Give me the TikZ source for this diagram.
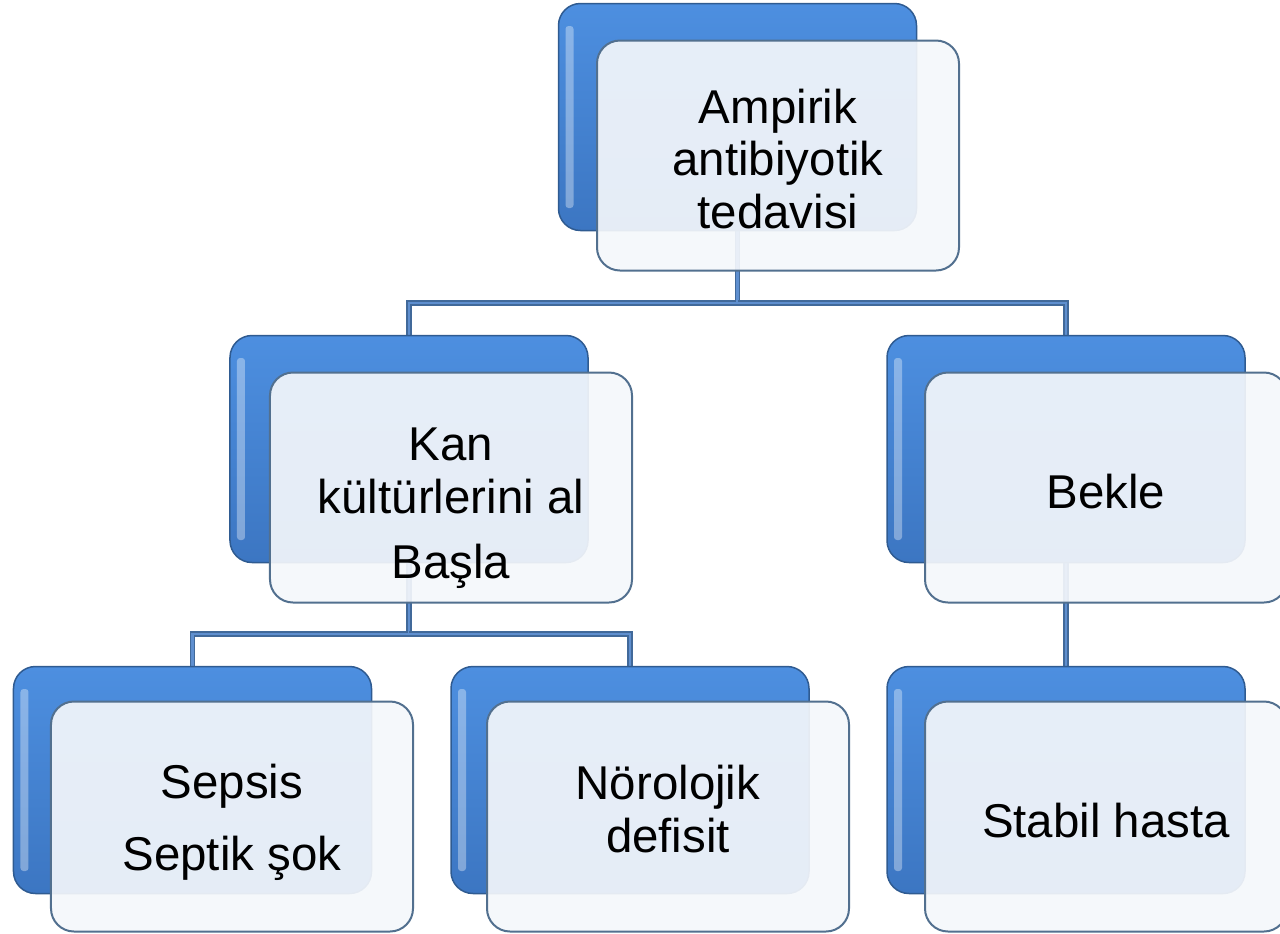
\documentclass[tikz,border=0pt]{standalone}
\usepackage{fontspec}
\setmainfont{Liberation Sans}
\usetikzlibrary{backgrounds}
\definecolor{tileblue}{HTML}{4D8FE0}
\definecolor{tiledeep}{HTML}{3C76C2}
\definecolor{tileedge}{HTML}{2F5B91}
\definecolor{cardfill}{HTML}{F4F7FB}
\definecolor{cardedge}{HTML}{52708F}
\definecolor{linkedge}{HTML}{41699A}
\definecolor{linkfill}{HTML}{5F8FCF}
\tikzset{
  back tile/.style={
    rounded corners=4.4mm,
    draw=tileedge, line width=0.3mm,
    top color=tileblue, bottom color=tiledeep,
    minimum width=71.6mm, minimum height=45.4mm,
    path picture={
      \fill[white, opacity=0.35, rounded corners=0.6mm]
        ([xshift=1.4mm, yshift=-4.5mm]path picture bounding box.north west)
        rectangle ([xshift=3mm, yshift=4.5mm]path picture bounding box.south west);
    },
  },
  front card/.style={
    rounded corners=4.6mm,
    draw=cardedge, line width=0.4mm,
    fill=cardfill, fill opacity=0.92,
    minimum width=72.4mm, minimum height=46mm,
  },
  card text/.style={
    align=center, inner sep=0pt,
    font=\fontsize{27}{30}\selectfont,
  },
  link/.style={
    draw=linkedge, line width=0.3mm,
    double=linkfill, double distance=0.5mm,
  },
}

\begin{document}
\begin{tikzpicture}[x=0.2mm, y=-0.2mm]
      \useasboundingbox (0,0) rectangle (1280,933);

      % tiles: blue back plate, then the light card over it
      \node[back tile]  (topb)    at (737.5,117) {};
      \node[front card] (topc)    at (778,155.5) {};
      \node[back tile]  (kanb)    at (409,449) {};
      \node[front card] (kanc)    at (451,487.5) {};
      \node[back tile]  (bekleb)  at (1066,449) {};
      \node[front card] (beklec)  at (1106,487.5) {};
      \node[back tile]  (sepsisb) at (192.5,780) {};
      \node[front card] (sepsisc) at (232,816.5) {};
      \node[back tile]  (norob)   at (630,780) {};
      \node[front card] (noroc)   at (668,816.5) {};
      \node[back tile]  (stabilb) at (1066,780) {};
      \node[front card] (stabilc) at (1106,816.5) {};

      % texts
      \node[card text] (topt)    at (778,159)   {Ampirik\\antibiyotik\\tedavisi};
      \node[card text] (kant)    at (451,508)   {Kan\\kültürlerini al\\[7pt]Başla};
      \node[card text] (beklet)  at (1106,492)  {Bekle};
      \node[card text] (sepsist) at (232,822)   {Sepsis\\[11pt]Septik şok};
      \node[card text] (norot)   at (668,809)   {Nörolojik\\defisit};
      \node[card text] (stabilt) at (1106,821)  {Stabil hasta};

      \coordinate (bus1) at (737.5,303);
      \coordinate (bus2) at (409,634);

      \begin{scope}[on background layer]
        \draw[link] (topb.south) -- (bus1) -| (kanb.north);
        \draw[link] (bus1) -| (bekleb.north);
        \draw[link] (kanb.south) -- (bus2) -| (sepsisb.north);
        \draw[link] (bus2) -| (norob.north);
        \draw[link] (bekleb.south) -- (stabilb.north);
      \end{scope}
    \end{tikzpicture}
\end{document}
